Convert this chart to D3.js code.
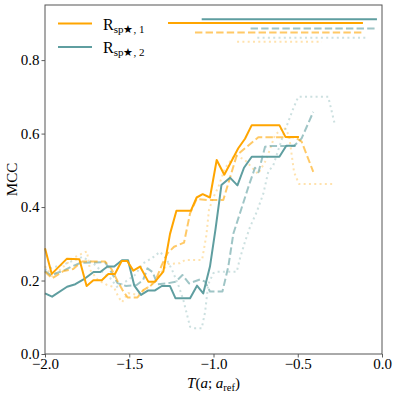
<!DOCTYPE html>
<html><head><meta charset="utf-8">
<script src="https://cdn.jsdelivr.net/npm/d3@7"></script>
<style>body{margin:0;background:#fff}svg{display:block}text{font-family:"Liberation Serif","DejaVu Serif",serif;fill:#000}</style>
</head><body><svg id="c" width="397" height="396"></svg>
<script>
// ---- data ----
const xTicks = [-2.0, -1.5, -1.0, -0.5, 0.0];
const yTicks = [0.0, 0.2, 0.4, 0.6, 0.8];
const seriesNames = ["sp\u2605, 1", "sp\u2605, 2"];

const orangeSolidX = [-2.0,-1.96,-1.871,-1.796,-1.753,-1.713,-1.663,-1.624,-1.585,-1.545,-1.512,-1.476,-1.436,-1.387,-1.347,-1.298,-1.258,-1.22,-1.134,-1.10,-1.064,-1.021,-0.981,-0.936,-0.853,-0.813,-0.773,-0.609,-0.573,-0.493];
const orangeSolidY = [0.288,0.218,0.259,0.258,0.185,0.201,0.201,0.218,0.218,0.253,0.253,0.227,0.238,0.197,0.197,0.224,0.327,0.390,0.390,0.426,0.435,0.426,0.528,0.488,0.560,0.586,0.623,0.623,0.591,0.591];

const tealSolidX = [-2.0,-1.958,-1.869,-1.82,-1.761,-1.712,-1.672,-1.629,-1.589,-1.543,-1.507,-1.47,-1.43,-1.387,-1.347,-1.307,-1.258,-1.226,-1.139,-1.098,-1.061,-1.021,-0.988,-0.953,-0.902,-0.858,-0.819,-0.773,-0.609,-0.568,-0.513];
const tealSolidY = [0.165,0.156,0.183,0.190,0.206,0.223,0.223,0.238,0.238,0.255,0.255,0.186,0.161,0.173,0.173,0.185,0.185,0.152,0.152,0.186,0.165,0.238,0.340,0.460,0.480,0.459,0.507,0.537,0.537,0.567,0.567];

const orangeDashX = [-2.0,-1.958,-1.89,-1.834,-1.78,-1.644,-1.605,-1.57,-1.54,-1.51,-1.451,-1.417,-1.377,-1.347,-1.307,-1.273,-1.234,-1.175,-1.139,-1.10,-1.04,-0.942,-0.862,-0.813,-0.734,-0.516,-0.477,-0.408];
const orangeDashY = [0.224,0.206,0.226,0.231,0.252,0.252,0.231,0.199,0.174,0.154,0.154,0.174,0.184,0.197,0.242,0.274,0.292,0.303,0.383,0.422,0.419,0.419,0.541,0.560,0.590,0.590,0.578,0.496];

const tealDashX = [-2.0,-1.964,-1.881,-1.842,-1.79,-1.644,-1.608,-1.57,-1.519,-1.456,-1.418,-1.392,-1.362,-1.332,-1.278,-1.223,-1.184,-1.145,-1.08,-1.05,-1.021,-0.947,-0.912,-0.882,-0.843,-0.795,-0.754,-0.733,-0.694,-0.665,-0.522,-0.477,-0.408];
const tealDashY = [0.226,0.214,0.229,0.238,0.248,0.250,0.224,0.193,0.185,0.188,0.201,0.233,0.223,0.190,0.192,0.197,0.215,0.192,0.203,0.197,0.170,0.170,0.238,0.328,0.383,0.452,0.507,0.495,0.564,0.566,0.566,0.587,0.659];

const orangeDotX = [-2.0,-1.958,-1.899,-1.834,-1.774,-1.751,-1.733,-1.685,-1.632,-1.591,-1.564,-1.543,-1.507,-1.454,-1.396,-1.341,-1.30,-1.27,-1.199,-1.169,-1.068,-1.042,-1.027,-1.003,-0.971,-0.932,-0.872,-0.813,-0.736,-0.688,-0.635,-0.582,-0.552,-0.522,-0.493,-0.279];
const orangeDotY = [0.239,0.212,0.234,0.261,0.275,0.279,0.229,0.201,0.188,0.182,0.155,0.141,0.166,0.161,0.179,0.201,0.229,0.245,0.247,0.256,0.256,0.324,0.392,0.424,0.455,0.506,0.542,0.528,0.490,0.528,0.596,0.618,0.596,0.495,0.463,0.463];

const tealDotX = [-2.0,-1.941,-1.881,-1.78,-1.721,-1.652,-1.614,-1.573,-1.525,-1.466,-1.417,-1.365,-1.318,-1.282,-1.246,-1.209,-1.179,-1.139,-1.11,-1.07,-1.05,-1.031,-1.001,-0.981,-0.862,-0.843,-0.813,-0.783,-0.744,-0.704,-0.675,-0.645,-0.586,-0.526,-0.497,-0.319,-0.279];
const tealDotY = [0.229,0.237,0.245,0.264,0.250,0.220,0.207,0.183,0.196,0.215,0.247,0.261,0.278,0.261,0.229,0.188,0.147,0.074,0.070,0.070,0.114,0.190,0.220,0.224,0.224,0.260,0.306,0.346,0.386,0.437,0.496,0.514,0.596,0.669,0.700,0.700,0.623];

// horizontal range markers at the top: [xStart, xEnd, y]
const markOrangeSolid = [-1.27, -0.113, 0.901];
const markTealSolid   = [-1.07, -0.03, 0.911];
const markOrangeDash  = [-1.11, -0.113, 0.875];
const markTealDash    = [-0.78, -0.03, 0.886];
const markOrangeDot   = [-0.86, -0.356, 0.850];
const markTealDot     = [-0.74, -0.08, 0.861];

// ---- layout ----
const ORANGE = "#FFA500", TEAL = "#5F9EA0";
const L = 45, R = 382, T = 5, B = 354;
const SERIF = "'Liberation Serif','DejaVu Serif',serif";
const svg = d3.select("#c");
const x = d3.scaleLinear().domain([-2, 0]).range([L, R]);
const y = d3.scaleLinear().domain([0, 0.95]).range([B, T]);

const styles = {
  solid: {dash: null, op: 1},
  dash: {dash: "7.4,3.2", op: 0.6},
  dot: {dash: "2,3.3", op: 0.32}
};

const series = [
  {xs: tealDotX, ys: tealDotY, c: TEAL, s: "dot", m: markTealDot},
  {xs: orangeDotX, ys: orangeDotY, c: ORANGE, s: "dot", m: markOrangeDot},
  {xs: tealDashX, ys: tealDashY, c: TEAL, s: "dash", m: markTealDash},
  {xs: orangeDashX, ys: orangeDashY, c: ORANGE, s: "dash", m: markOrangeDash},
  {xs: tealSolidX, ys: tealSolidY, c: TEAL, s: "solid", m: markTealSolid},
  {xs: orangeSolidX, ys: orangeSolidY, c: ORANGE, s: "solid", m: markOrangeSolid}
];

const line = d3.line().x(d => x(d[0])).y(d => y(d[1]));
const g = svg.append("g");
series.forEach(se => {
  const st = styles[se.s];
  const pts = se.xs.map((v, i) => [v, se.ys[i]]);
  g.append("path").attr("d", line(pts)).attr("fill", "none")
    .attr("stroke", se.c).attr("stroke-width", 2).attr("stroke-opacity", st.op)
    .attr("stroke-dasharray", st.dash).attr("stroke-linejoin", "round");
  g.append("line").attr("x1", x(se.m[0])).attr("x2", x(se.m[1]))
    .attr("y1", y(se.m[2])).attr("y2", y(se.m[2]))
    .attr("stroke", se.c).attr("stroke-width", 2).attr("stroke-opacity", st.op)
    .attr("stroke-dasharray", st.dash);
});

// axes
const fmt = d => d3.format(".1f")(d).replace("-", "\u2212");
const xAxis = svg.append("g").attr("transform", `translate(0,${B})`)
  .call(d3.axisBottom(x).tickValues(xTicks).tickFormat(fmt).tickSize(3.5).tickPadding(1));
const yAxis = svg.append("g").attr("transform", `translate(${L},0)`)
  .call(d3.axisLeft(y).tickValues(yTicks).tickFormat(fmt).tickSize(3.5).tickPadding(2));
[xAxis, yAxis].forEach(a => {
  a.attr("font-family", null).attr("font-size", null);
  a.select(".domain").remove();
  a.selectAll("line").attr("stroke", "#333").attr("stroke-width", 0.8);
  a.selectAll("text").style("font-size", "15px").style("font-family", SERIF).attr("fill", "#000");
});
xAxis.selectAll("text").attr("dy", "0.72em");
svg.append("rect").attr("x", L).attr("y", T).attr("width", R - L).attr("height", B - T)
  .attr("fill", "none").attr("stroke", "#555").attr("stroke-width", 1);

// axis labels
svg.append("text").attr("transform", `translate(17,${(T + B) / 2}) rotate(-90)`)
  .attr("text-anchor", "middle").style("font-size", "15px").text("MCC");
const xl = svg.append("text").attr("x", (L + R) / 2).attr("y", 388).attr("text-anchor", "middle").style("font-size", "15px");
xl.append("tspan").attr("font-style", "italic").text("T");
xl.append("tspan").text("(");
xl.append("tspan").attr("font-style", "italic").text("a");
xl.append("tspan").text("; ");
xl.append("tspan").attr("font-style", "italic").text("a");
xl.append("tspan").style("font-size", "10.5px").attr("dy", 3).text("ref");
xl.append("tspan").attr("dy", -3).text(")");

// legend
const legCols = [ORANGE, TEAL];
seriesNames.forEach((n, i) => {
  const ly = 23.5 + i * 23.5;
  svg.append("line").attr("x1", 58).attr("x2", 92).attr("y1", ly).attr("y2", ly)
    .attr("stroke", legCols[i]).attr("stroke-width", 2);
  const t = svg.append("text").attr("x", 103).attr("y", ly + 6).style("font-size", "16px");
  t.append("tspan").text("R");
  t.append("tspan").style("font-size", "11px").attr("dy", 3).text(n);
});
</script></body></html>
